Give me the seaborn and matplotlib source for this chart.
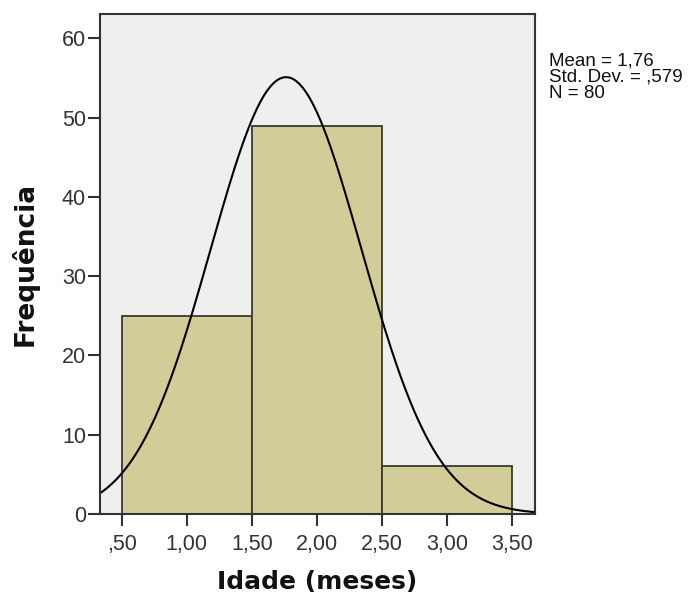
import numpy as np
import pandas as pd
import matplotlib
matplotlib.use("Agg")
import matplotlib.pyplot as plt
from matplotlib.ticker import FuncFormatter
import seaborn as sns

# Age in months: observed values and their frequencies
idade_valores = [1, 2, 3]
frequencias = [25, 49, 6]
bin_edges = [0.5, 1.5, 2.5, 3.5]
x_ticks = [0.5, 1.0, 1.5, 2.0, 2.5, 3.0, 3.5]
y_ticks = [0, 10, 20, 30, 40, 50, 60]

df = pd.DataFrame({"idade": idade_valores, "freq": frequencias})

# Summary statistics from the frequency table
n = int(np.sum(frequencias))
media = np.average(idade_valores, weights=frequencias)
var = np.sum(np.array(frequencias) * (np.array(idade_valores) - media) ** 2) / (n - 1)
dp = np.sqrt(var)

sns.set_theme(style="white")
plt.rcParams["font.family"] = ["Liberation Sans", "DejaVu Sans"]

fig = plt.figure(figsize=(6.95, 6.05), dpi=100)
ax = fig.add_axes([100 / 695, 1 - 514 / 605, 435 / 695, 500.5 / 605])
ax.set_facecolor("#efefef")

sns.histplot(data=df, x="idade", weights="freq", bins=bin_edges, ax=ax,
             color="#d2cd98", alpha=1.0, edgecolor="#3a3a30", linewidth=1.3)

xmin, xmax = 0.333, 3.675
ymax = 63.15

# Normal curve scaled to counts (N * bin width * pdf)
largura = bin_edges[1] - bin_edges[0]
xs = np.linspace(xmin, xmax, 400)
ys = n * largura * np.exp(-0.5 * ((xs - media) / dp) ** 2) / (dp * np.sqrt(2 * np.pi))
sns.lineplot(x=xs, y=ys, ax=ax, color="black", linewidth=1.5)

ax.set_xlim(xmin, xmax)
ax.set_ylim(0, ymax)
ax.set_xticks(x_ticks)
ax.set_yticks(y_ticks)


def num_pt(v, casas):
    """Portuguese decimal comma, without a leading zero."""
    s = f"{v:.{casas}f}".replace(".", ",")
    if s.startswith("0,"):
        s = s[1:]
    return s


ax.xaxis.set_major_formatter(FuncFormatter(lambda v, p: num_pt(v, 2)))
ax.yaxis.set_major_formatter(FuncFormatter(lambda v, p: f"{int(v)}"))

for side in ["left", "bottom", "top", "right"]:
    ax.spines[side].set_visible(True)
    ax.spines[side].set_color("#333333")
    ax.spines[side].set_linewidth(1.5)

ax.tick_params(axis="both", which="major", direction="out", length=8.5,
               width=1.5, color="#333333", labelsize=15.5, labelcolor="#333333")
ax.tick_params(axis="y", pad=1.5, left=True)
ax.tick_params(axis="x", pad=6, bottom=True)

ax.set_xlabel("Idade (meses)", fontsize=18, fontweight="bold",
              family="DejaVu Sans", color="#111111")
ax.set_ylabel("Frequência", fontsize=19, fontweight="bold",
              family="DejaVu Sans", color="#111111")
ax.xaxis.label.set_va("center")
ax.yaxis.label.set_va("center")
ax.xaxis.set_label_coords(0.5, (514 - 582) / 500.5)
ax.yaxis.set_label_coords((25 - 100) / 435, 0.5)

# Statistics box to the right of the plot
stats = [f"Mean = {num_pt(media, 2)}",
         f"Std. Dev. = {num_pt(dp, 3)}",
         f"N = {n}"]
for i, linha in enumerate(stats):
    fig.text(549 / 695, 1 - (61 + 16.5 * i) / 605, linha, fontsize=13.5,
             va="center", ha="left", color="#111111")

fig.savefig("out.png", dpi=100)
